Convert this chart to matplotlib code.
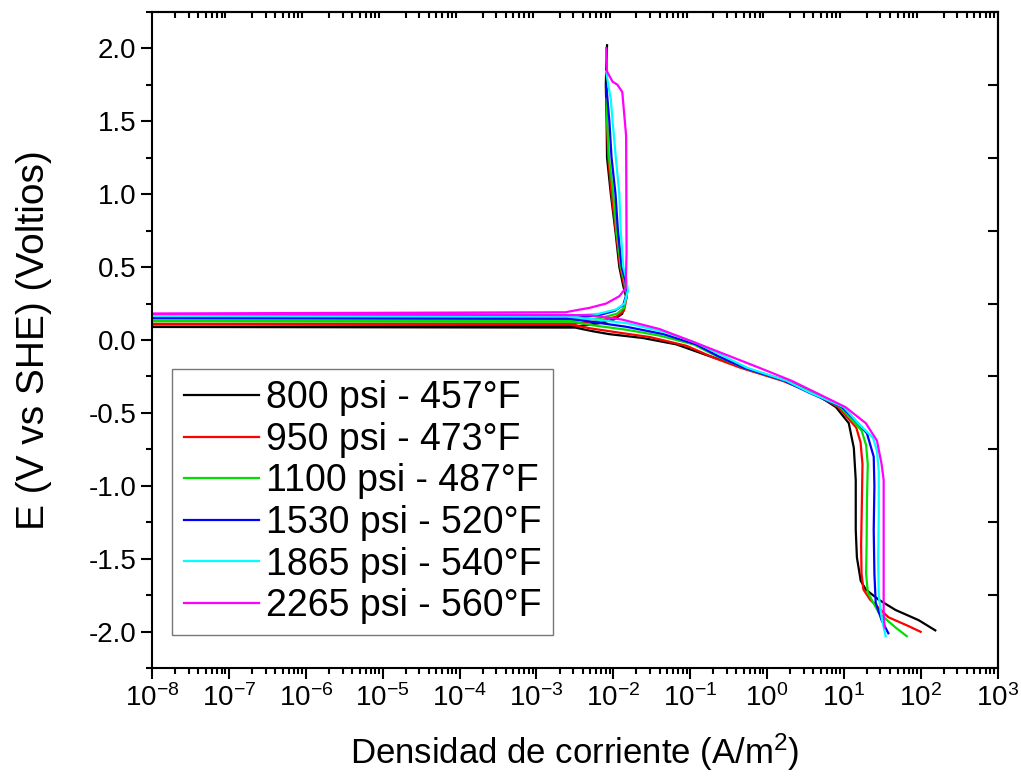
import matplotlib
matplotlib.use("Agg")
import matplotlib.pyplot as plt
from matplotlib.ticker import LogLocator, MultipleLocator, NullFormatter

plt.rcParams['font.family'] = ['Liberation Sans', 'DejaVu Sans']
plt.rcParams['mathtext.fontset'] = 'custom'
plt.rcParams['mathtext.rm'] = 'Liberation Sans'
plt.rcParams['mathtext.it'] = 'Liberation Sans:italic'
plt.rcParams['axes.unicode_minus'] = False

# potencial (V vs SHE) y densidad de corriente (A/m2), barrido de -2 a +2 V
e_800 = [-1.99, -1.92, -1.85, -1.78, -1.71, -1.65, -1.49, -1.30, -0.96, -0.74, -0.57, -0.46,
         -0.36, -0.28, -0.19, -0.11, -0.03, 0.014, 0.04, 0.06, 0.085, 0.09, 0.095, 0.115,
         0.14, 0.18, 0.29, 0.37, 0.5, 0.74, 1.0, 1.25, 1.5, 1.75, 2.02]
i_800 = [155, 94, 47, 28.5, 19.3, 16.6, 14.8, 14.3, 14.3, 13.5, 11.6, 7.9,
         4.0, 1.8, 0.5, 0.177, 0.066, 0.024, 0.0089, 0.0054, 0.0032, 1e-9, 0.0036, 0.0066,
         0.0102, 0.0131, 0.0148, 0.0135, 0.012, 0.0107, 0.0093, 0.0083, 0.0082, 0.0080, 0.0083]

e_950 = [-2.0, -1.96, -1.9, -1.78, -1.71, -1.6, -1.4, -1.1, -0.85, -0.7, -0.6, -0.46,
         -0.36, -0.28, -0.19, -0.12, -0.04, 0.02, 0.05, 0.08, 0.105, 0.11, 0.113, 0.13,
         0.16, 0.2, 0.3, 0.38, 0.5, 0.75, 1.0, 1.25, 1.5, 1.72]
i_950 = [100, 69, 38, 22, 18, 17, 16.8, 17.2, 17.5, 16.5, 14.5, 8.5,
         3.8, 1.6, 0.45, 0.2, 0.09, 0.03, 0.012, 0.005, 0.0028, 1e-9, 0.0032, 0.0065,
         0.011, 0.0138, 0.015, 0.0138, 0.0123, 0.0108, 0.0095, 0.0086, 0.0083, 0.0082]

e_1100 = [-2.03, -1.97, -1.87, -1.73, -1.6, -1.4, -1.1, -0.85, -0.72, -0.62, -0.46,
          -0.36, -0.28, -0.19, -0.11, -0.03, 0.03, 0.07, 0.1, 0.125, 0.13, 0.133, 0.15,
          0.18, 0.22, 0.32, 0.4, 0.5, 0.75, 1.0, 1.25, 1.5, 1.65]
i_1100 = [66, 47, 28.5, 20.5, 19.5, 19.8, 20, 20.5, 19.5, 17, 9,
          3.9, 1.7, 0.5, 0.22, 0.11, 0.04, 0.015, 0.0055, 0.003, 1e-9, 0.0033, 0.0068,
          0.0112, 0.0138, 0.015, 0.014, 0.0126, 0.011, 0.0100, 0.0088, 0.0083, 0.0082]

e_1530 = [-2.01, -1.92, -1.8, -1.6, -1.3, -1.0, -0.8, -0.64, -0.55, -0.46, -0.36,
          -0.28, -0.19, -0.11, -0.03, 0.04, 0.09, 0.12, 0.145, 0.15, 0.153, 0.17,
          0.2, 0.24, 0.33, 0.4, 0.5, 0.75, 1.0, 1.25, 1.5, 1.75]
i_1530 = [38, 31, 26, 25, 24.5, 25, 24.5, 20, 14, 9.5, 3.5,
          1.7, 0.5, 0.23, 0.12, 0.045, 0.015, 0.006, 0.0028, 1e-9, 0.0033, 0.0065,
          0.0105, 0.0135, 0.0152, 0.0145, 0.0129, 0.0115, 0.0107, 0.0095, 0.0089, 0.0081]

e_1865 = [-2.03, -1.9, -1.75, -1.5, -1.2, -0.9, -0.76, -0.67, -0.58, -0.46, -0.36,
          -0.28, -0.19, -0.1, -0.02, 0.05, 0.115, 0.14, 0.16, 0.165, 0.168, 0.18,
          0.21, 0.25, 0.34, 0.42, 0.5, 0.75, 1.0, 1.25, 1.5, 1.65, 1.75, 1.84]
i_1865 = [35, 31, 28.5, 28, 28.5, 28.5, 27, 24, 16, 10, 3.6,
          1.8, 0.55, 0.25, 0.12, 0.05, 0.015, 0.006, 0.0025, 1e-9, 0.0033, 0.0065,
          0.011, 0.014, 0.0155, 0.0148, 0.0135, 0.0125, 0.012, 0.0108, 0.0098, 0.0093, 0.0086, 0.0081]

e_2265 = [-1.97, -1.87, -1.5, -1.2, -0.96, -0.85, -0.69, -0.57, -0.46, -0.36, -0.28,
          -0.19, -0.1, -0.01, 0.075, 0.14, 0.17, 0.18, 0.19, 0.2, 0.22, 0.25,
          0.3, 0.355, 0.6, 1.0, 1.4, 1.7, 1.75, 1.77, 1.84, 2.0]
i_2265 = [34, 33, 33, 33, 33, 31, 27, 19.3, 10.5, 4.3, 2.1,
          0.79, 0.29, 0.106, 0.04, 0.013, 0.0049, 1e-9, 0.0024, 0.003, 0.0049, 0.0081,
          0.012, 0.0145, 0.0149, 0.0148, 0.0147, 0.0131, 0.0113, 0.0098, 0.0083, 0.0081]

labels = ['800 psi - 457°F', '950 psi - 473°F', '1100 psi - 487°F',
          '1530 psi - 520°F', '1865 psi - 540°F', '2265 psi - 560°F']
colors = ['#000000', '#FF0000', '#00E000', '#0000FF', '#00FFFF', '#FF00FF']

series = [(i_800, e_800), (i_950, e_950), (i_1100, e_1100),
          (i_1530, e_1530), (i_1865, e_1865), (i_2265, e_2265)]

fig = plt.figure(figsize=(10.21, 7.78), dpi=100)
ax = fig.add_axes([0.149, 0.141, 0.828, 0.844])

for (cur, pot), lab, col in zip(series, labels, colors):
    ax.plot(cur, pot, color=col, lw=1.6, label=lab)

ax.set_xscale('log')
ax.set_xlim(1e-8, 1e3)
ax.set_ylim(-2.25, 2.25)
ax.xaxis.set_major_locator(LogLocator(base=10, numticks=20))
ax.xaxis.set_minor_locator(LogLocator(base=10, subs=range(2, 10), numticks=20))
ax.xaxis.set_minor_formatter(NullFormatter())
ax.yaxis.set_major_locator(MultipleLocator(0.5))
ax.yaxis.set_minor_locator(MultipleLocator(0.25))

for s in ax.spines.values():
    s.set_linewidth(1.5)
ax.tick_params(which='both', direction='out', top=False, right=False, width=1.5, labelsize=20)
ax.tick_params(which='major', length=8)
ax.tick_params(which='minor', length=4.5)

# ejes superior y derecho: solo marcas menores hacia dentro
top = ax.secondary_xaxis('top')
top.set_xscale('log')
top.xaxis.set_major_locator(LogLocator(base=10, numticks=20))
top.xaxis.set_minor_locator(LogLocator(base=10, subs=range(2, 10), numticks=20))
top.tick_params(which='major', length=0, labeltop=False)
top.tick_params(which='minor', direction='in', length=4.5, width=1.5)
top.xaxis.set_minor_formatter(NullFormatter())
top.spines['top'].set_linewidth(1.5)
right = ax.secondary_yaxis('right')
right.yaxis.set_major_locator(MultipleLocator(0.5))
right.yaxis.set_minor_locator(MultipleLocator(0.25))
right.tick_params(which='major', length=0, labelright=False)
right.tick_params(which='minor', direction='in', length=7, width=1.5)
right.spines['right'].set_linewidth(1.5)

ax.set_xlabel('Densidad de corriente (A/m$^2$)', fontsize=25, labelpad=14)
ax.set_ylabel('E (V vs SHE) (Voltios)', fontsize=28, labelpad=26)

leg = ax.legend(loc='lower left', bbox_to_anchor=(0.024, 0.05), borderaxespad=0,
                fontsize=27, frameon=True, fancybox=False, edgecolor='#555555',
                handlelength=2.0, handletextpad=0.2, labelspacing=0.15, borderpad=0.3)
leg.get_frame().set_linewidth(1.0)

fig.savefig('out.png', dpi=100)
